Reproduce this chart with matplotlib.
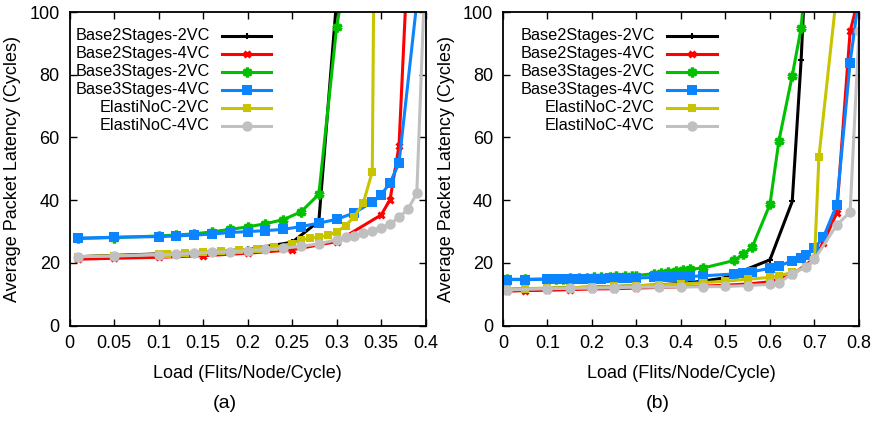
import matplotlib
matplotlib.use("Agg")
import matplotlib.pyplot as plt

plt.rcParams['font.family'] = ['Liberation Sans', 'DejaVu Sans']

names = ["Base2Stages-2VC", "Base2Stages-4VC", "Base3Stages-2VC",
         "Base3Stages-4VC", "ElastiNoC-2VC", "ElastiNoC-4VC"]

# ---- (a) left panel ----
a_b22_x = [0.01, 0.05, 0.1, 0.15, 0.2, 0.25, 0.28, 0.30]
a_b22_y = [22.0, 22.4, 22.9, 23.4, 24.3, 26.6, 33.3, 104]
a_b24_x = [0.01, 0.05, 0.1, 0.15, 0.2, 0.25, 0.3, 0.35, 0.36, 0.37, 0.38]
a_b24_y = [21.2, 21.5, 21.8, 22.3, 23.1, 24.2, 26.8, 35.3, 40.2, 57.3, 118]
a_b32_x = [0.01, 0.05, 0.1, 0.12, 0.14, 0.16, 0.18, 0.2, 0.22, 0.24, 0.26, 0.28, 0.30, 0.31]
a_b32_y = [27.8, 28.1, 28.6, 28.9, 29.3, 29.9, 30.7, 31.5, 32.5, 33.8, 36.3, 41.9, 95.2, 112]
a_b34_x = [0.01, 0.05, 0.1, 0.12, 0.14, 0.16, 0.18, 0.2, 0.22, 0.24, 0.26, 0.28, 0.30,
           0.32, 0.34, 0.35, 0.36, 0.37, 0.39]
a_b34_y = [27.9, 28.2, 28.4, 28.6, 28.9, 29.2, 29.7, 30.0, 30.3, 30.7, 31.6, 32.7, 33.9,
           36.0, 39.4, 41.7, 45.6, 51.8, 103]
a_e2_x = [0.01, 0.05, 0.1, 0.11, 0.13, 0.15, 0.17, 0.19, 0.21, 0.23, 0.25, 0.26, 0.27,
          0.28, 0.29, 0.30, 0.31, 0.32, 0.33, 0.34, 0.35]
a_e2_y = [22.0, 22.3, 22.8, 23.0, 23.3, 23.6, 23.9, 24.2, 24.5, 25.0, 26.2, 27.3, 27.9,
          28.2, 28.9, 29.8, 31.9, 34.8, 39.2, 49.1, 400]
a_e4_x = [0.01, 0.05, 0.1, 0.12, 0.14, 0.16, 0.18, 0.2, 0.22, 0.24, 0.26, 0.28, 0.30,
          0.31, 0.32, 0.33, 0.34, 0.35, 0.36, 0.37, 0.38, 0.39, 0.40]
a_e4_y = [22.0, 22.2, 22.6, 22.8, 23.1, 23.4, 23.6, 23.9, 24.3, 24.7, 25.3, 26.1, 27.4,
          28.2, 28.7, 29.5, 30.3, 31.2, 32.5, 34.5, 37.1, 42.2, 118]

# ---- (b) right panel ----
b_b22_x = [0.01, 0.05, 0.1, 0.15, 0.2, 0.25, 0.3, 0.35, 0.4, 0.45, 0.5, 0.6, 0.65, 0.67, 0.68]
b_b22_y = [11.6, 11.7, 11.9, 12.1, 12.3, 12.5, 12.7, 13.0, 13.5, 14.2, 15.3, 21.0, 39.6, 84.7, 115]
b_b24_x = [0.01, 0.05, 0.1, 0.15, 0.2, 0.25, 0.3, 0.35, 0.4, 0.45, 0.5, 0.55, 0.6, 0.65,
           0.7, 0.72, 0.75, 0.78, 0.8]
b_b24_y = [11.0, 11.2, 11.3, 11.5, 11.7, 11.8, 12.0, 12.2, 12.4, 12.6, 12.9, 13.3, 14.0, 16.2,
           21.5, 26.5, 36.0, 93.8, 105]
b_b32_x = [0.01, 0.05, 0.1, 0.12, 0.135, 0.15, 0.17, 0.19, 0.205, 0.22, 0.24, 0.255, 0.275,
           0.29, 0.30, 0.34, 0.355, 0.37, 0.39, 0.405, 0.42, 0.45, 0.52, 0.54, 0.56,
           0.6, 0.62, 0.65, 0.67, 0.68]
b_b32_y = [14.8, 14.8, 14.9, 15.0, 15.0, 15.1, 15.2, 15.3, 15.4, 15.5, 15.6, 15.7, 15.8,
           15.9, 16.0, 16.6, 16.8, 17.1, 17.5, 17.8, 18.0, 18.4, 20.8, 22.8, 25.0,
           38.7, 58.9, 79.7, 94.9, 112]
b_b34_x = [0.01, 0.05, 0.1, 0.12, 0.135, 0.15, 0.17, 0.19, 0.205, 0.22, 0.24, 0.255, 0.275,
           0.29, 0.30, 0.34, 0.355, 0.37, 0.39, 0.405, 0.42, 0.45, 0.52, 0.54, 0.56,
           0.6, 0.62, 0.65, 0.67, 0.68, 0.70, 0.72, 0.75, 0.78, 0.80]
b_b34_y = [14.7, 14.7, 14.8, 14.8, 14.9, 14.9, 14.9, 15.0, 15.0, 15.0, 15.1, 15.1, 15.1,
           15.2, 15.2, 15.4, 15.5, 15.5, 15.6, 15.6, 15.7, 15.9, 16.5, 16.9, 17.2,
           18.3, 19.0, 20.7, 21.7, 22.6, 24.7, 28.2, 38.5, 83.9, 105]
b_e2_x = [0.01, 0.05, 0.1, 0.15, 0.2, 0.25, 0.3, 0.35, 0.4, 0.45, 0.5, 0.55, 0.6, 0.62,
          0.65, 0.68, 0.70, 0.71, 0.75]
b_e2_y = [11.6, 11.8, 12.0, 12.1, 12.3, 12.5, 12.8, 13.0, 13.3, 13.7, 14.2, 14.8, 15.4, 15.9,
          17.0, 18.6, 20.8, 53.9, 106]
b_e4_x = [0.01, 0.1, 0.15, 0.2, 0.25, 0.3, 0.35, 0.4, 0.45, 0.5, 0.55, 0.6, 0.62, 0.65,
          0.68, 0.70, 0.75, 0.78, 0.80]
b_e4_y = [11.4, 11.8, 11.9, 12.0, 12.1, 12.3, 12.3, 12.4, 12.4, 12.5, 12.8, 13.2, 13.7, 16.5,
          18.7, 21.2, 32.1, 36.2, 93.8]

# line styles (gnuplot-like)
styles = [
    dict(color="black", marker="+", ms=5, mew=1.5),
    dict(color="#ff0000", marker="x", ms=5, mew=2.2),
    dict(color="#00c000", marker=(6, 2, 0), ms=7, mew=2.4),
    dict(color="#0a84ff", marker="s", ms=7, mew=0),
    dict(color="#c8c400", marker="s", ms=5.5, mew=0),
    dict(color="#c0c0c0", marker="o", ms=7.5, mew=0),
]

fig = plt.figure(figsize=(8.77, 4.22), dpi=100)
W, H = 877.0, 422.0
ax1 = fig.add_axes([69.5 / W, 1 - 325.7 / H, 356.2 / W, 313.7 / H])
ax2 = fig.add_axes([502.9 / W, 1 - 325.7 / H, 356.1 / W, 313.7 / H])

series_a = [(a_b22_x, a_b22_y), (a_b24_x, a_b24_y), (a_b32_x, a_b32_y),
            (a_b34_x, a_b34_y), (a_e2_x, a_e2_y), (a_e4_x, a_e4_y)]
series_b = [(b_b22_x, b_b22_y), (b_b24_x, b_b24_y), (b_b32_x, b_b32_y),
            (b_b34_x, b_b34_y), (b_e2_x, b_e2_y), (b_e4_x, b_e4_y)]


def draw(ax, series, xmax, xticks, xticklabels, text_right, line_l, line_r):
    for (x, y), st in zip(series, styles):
        ax.plot(x, y, color=st["color"], lw=2.2, marker=st["marker"],
                ms=st["ms"], mew=st["mew"], mec=st["color"], mfc=st["color"])
    ax.set_xlim(0, xmax)
    ax.set_ylim(0, 100)
    ax.set_xticks(xticks)
    ax.set_xticklabels(xticklabels)
    ax.set_yticks([0, 20, 40, 60, 80, 100])
    ax.tick_params(direction="in", top=True, right=True, length=5, width=1,
                   labelsize=13, pad=7)
    for s in ax.spines.values():
        s.set_linewidth(1.3)
    ax.set_xlabel("Load (Flits/Node/Cycle)", fontsize=13, labelpad=9)
    ax.set_ylabel("Average Packet Latency (Cycles)", fontsize=13, labelpad=6)
    # key, text on the left of the sample line
    for i, (nm, st) in enumerate(zip(names, styles)):
        yy = 1 - (23.5 + 18 * i) / 313.7
        ax.text(text_right, yy, nm, transform=ax.transAxes, ha="right",
                va="center", fontsize=11.7)
        ax.plot([line_l, line_r], [yy, yy], transform=ax.transAxes,
                color=st["color"], lw=2.2, clip_on=False)
        ax.plot([(line_l + line_r) / 2], [yy], transform=ax.transAxes,
                color=st["color"], marker=st["marker"], ms=st["ms"],
                mew=st["mew"], mec=st["color"], mfc=st["color"], clip_on=False)


draw(ax1, series_a, 0.4, [0, 0.05, 0.1, 0.15, 0.2, 0.25, 0.3, 0.35, 0.4],
     ["0", "0.05", "0.1", "0.15", "0.2", "0.25", "0.3", "0.35", "0.4"],
     0.394, 0.429, 0.567)
draw(ax2, series_b, 0.8, [0, 0.1, 0.2, 0.3, 0.4, 0.5, 0.6, 0.7, 0.8],
     ["0", "0.1", "0.2", "0.3", "0.4", "0.5", "0.6", "0.7", "0.8"],
     0.427, 0.46, 0.60)

fig.text(225 / W, 1 - 404 / H, "(a)", ha="center", va="center", fontsize=14)
fig.text(658 / W, 1 - 404 / H, "(b)", ha="center", va="center", fontsize=14)

fig.savefig("out.png", dpi=100)
